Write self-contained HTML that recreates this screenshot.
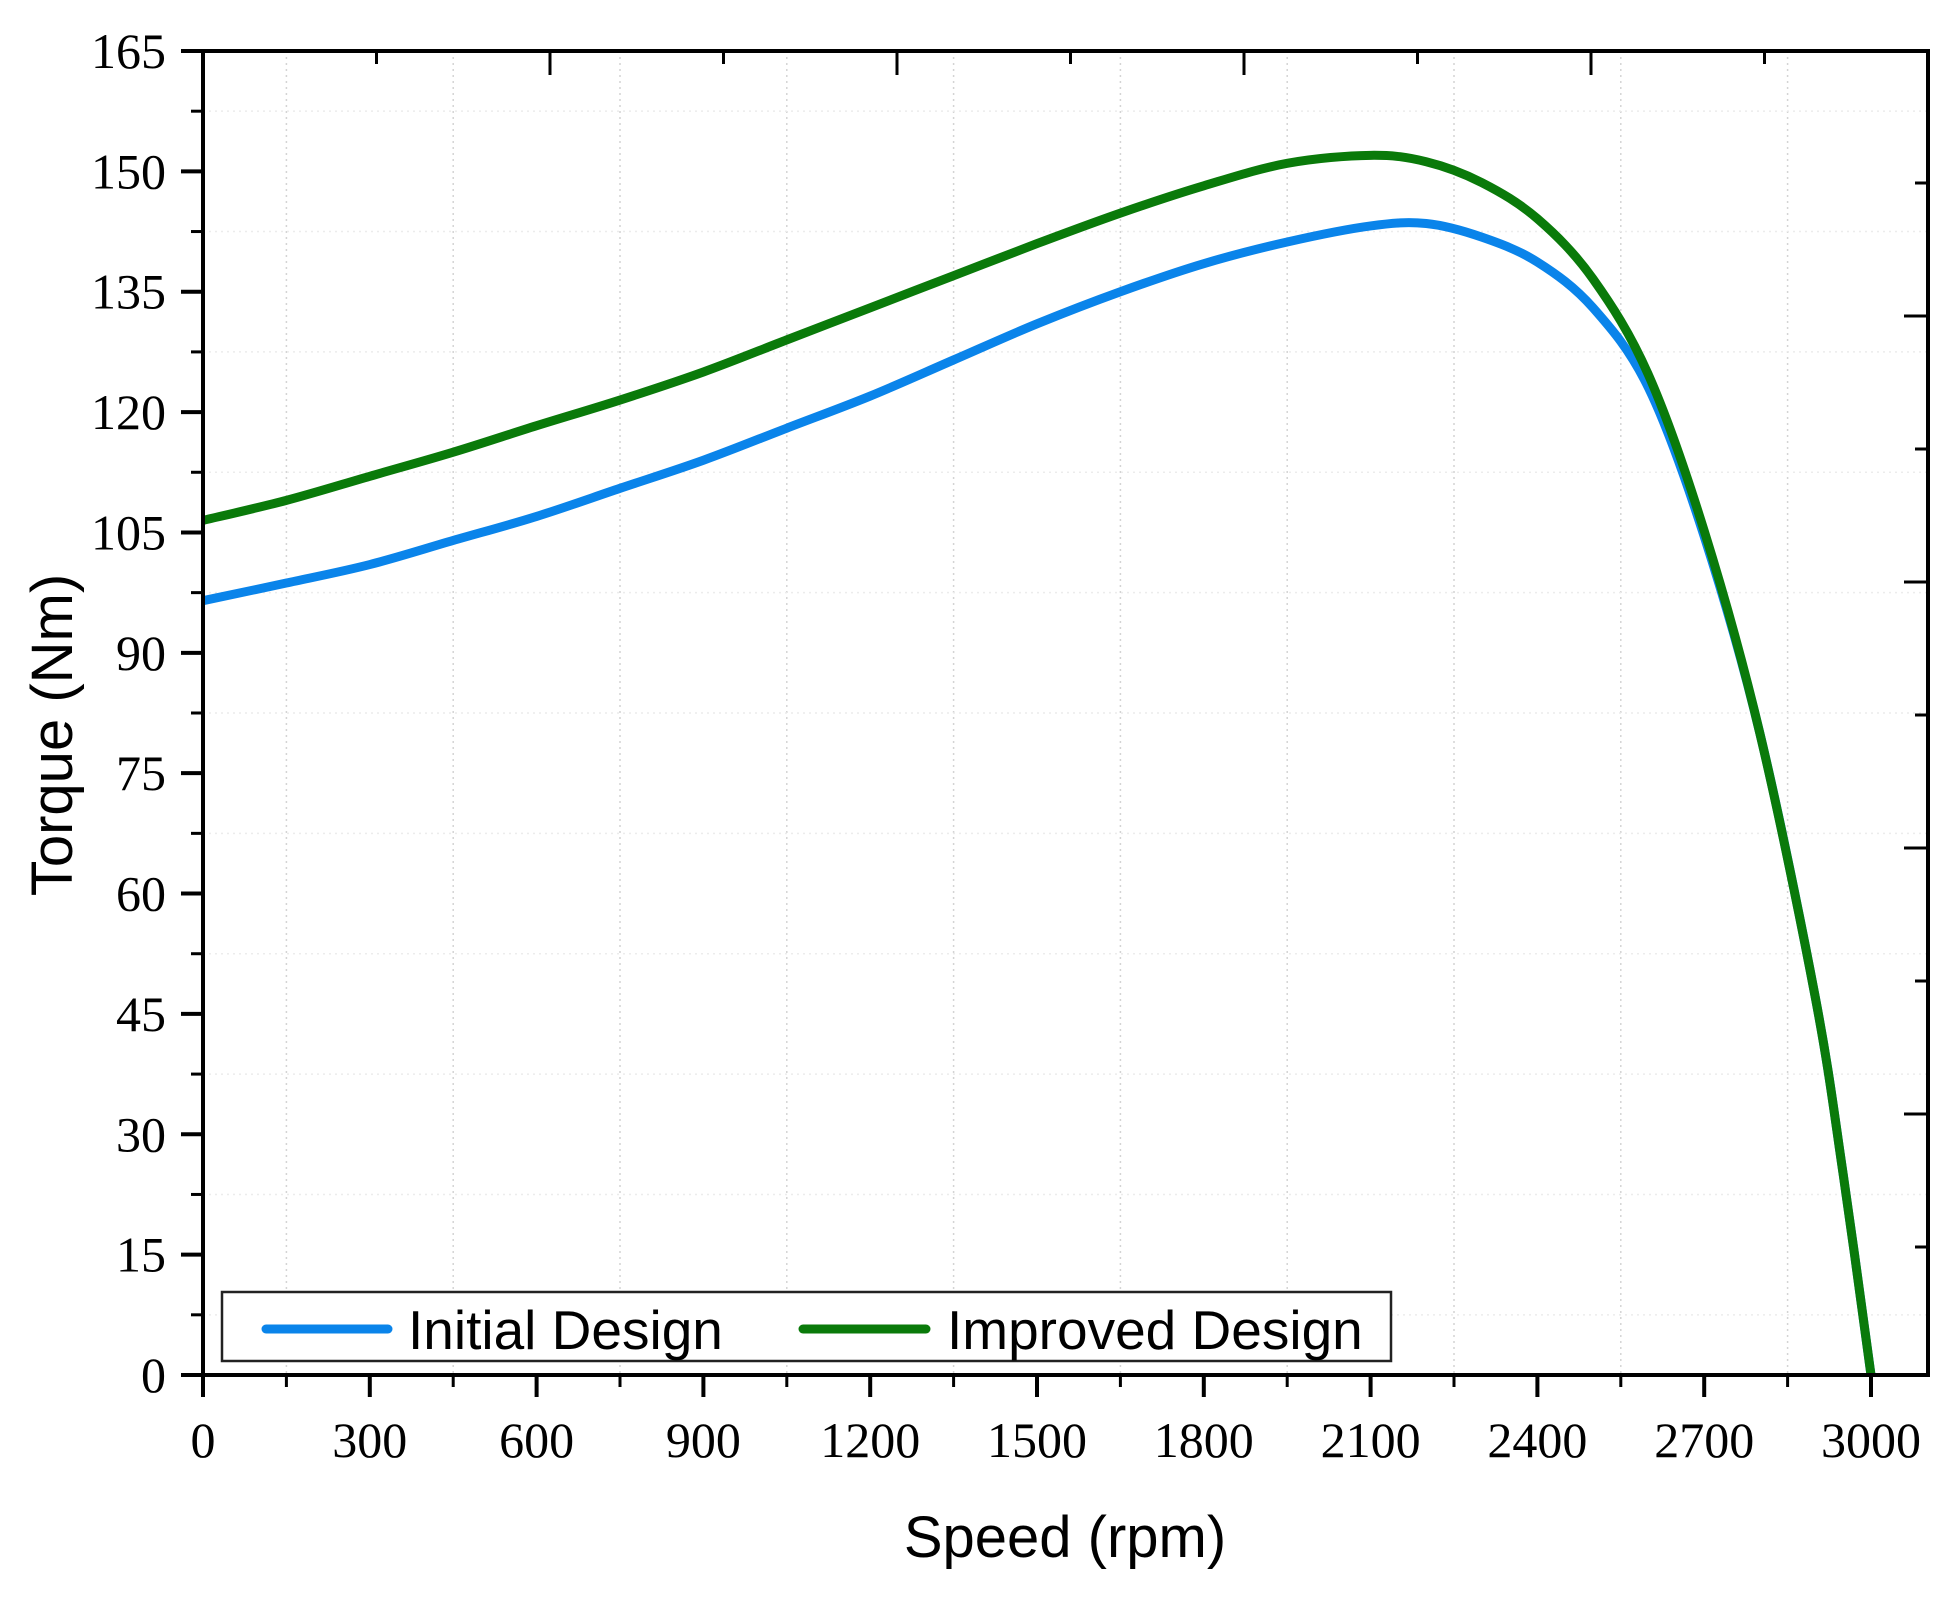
<!DOCTYPE html>
<html><head><meta charset="utf-8"><style>
html,body{margin:0;padding:0;background:#fff;}
svg{display:block;}
</style></head><body>
<svg id="chart" width="1953" height="1599" viewBox="0 0 1953 1599" xmlns="http://www.w3.org/2000/svg">
<rect width="1953" height="1599" fill="#fff"/>
<g id="grid"></g>
<g id="series"></g>
<g id="axes"></g>
<text x="1065" y="1557" text-anchor="middle" font-family="Liberation Sans, sans-serif" font-size="58" fill="#000">Speed (rpm)</text>
<text transform="translate(72,735) rotate(-90)" text-anchor="middle" font-family="Liberation Sans, sans-serif" font-size="58" fill="#000">Torque (Nm)</text>
<g>
<rect x="222" y="1292" width="1169" height="69" fill="#fff" stroke="#222" stroke-width="2.5"/>
<line x1="266" y1="1329" x2="388" y2="1329" stroke="#0a84ea" stroke-width="9" stroke-linecap="round"/>
<text x="408" y="1349" font-family="Liberation Sans, sans-serif" font-size="55" fill="#000">Initial Design</text>
<line x1="803" y1="1329" x2="926" y2="1329" stroke="#0a7a0a" stroke-width="9" stroke-linecap="round"/>
<text x="947" y="1349" font-family="Liberation Sans, sans-serif" font-size="55" fill="#000">Improved Design</text>
</g>
</svg>
<script>
const speeds = [0,150,300,450,600,750,900,1050,1200,1350,1500,1650,1800,1950,2100,2200,2300,2400,2500,2600,2700,2800,2900,2950,3000];
const initialTorque = [96.5,98.7,101,104,107,110.5,114,118,122,126.5,131,135,138.5,141.2,143.2,143.5,141.8,138.7,133,123,104.5,80,47,25,0];
const improvedTorque = [106.5,109,112,115,118.3,121.5,125,129,133,137,141,144.8,148.2,151,152,151.2,148.6,144.1,136.6,124.6,105.2,80,47,25,0];
const xTicks = [0,300,600,900,1200,1500,1800,2100,2400,2700,3000];
const yTicks = [0,15,30,45,60,75,90,105,120,135,150,165];

const NS = 'http://www.w3.org/2000/svg';
const L = 203, R = 1928, T = 51, B = 1375;
const X = v => L + (v / 3000) * (1871 - L);
const Y = v => B - (v / 165) * (B - T);
function mk(tag, attrs, parent) {
  const e = document.createElementNS(NS, tag);
  for (const k in attrs) e.setAttribute(k, attrs[k]);
  parent.appendChild(e);
  return e;
}
const grid = document.getElementById('grid');
const axes = document.getElementById('axes');
const series = document.getElementById('series');

for (let v = 150; v < 3100; v += 300) {
  const g = mk('line', {x1: X(v), x2: X(v), y1: T, y2: B, stroke: '#d4d4d4', 'stroke-width': 1.5, 'stroke-dasharray': '2 4'}, grid);
  
  
}
for (let v = 7.5; v < 165; v += 15) {
  const g = mk('line', {x1: L, x2: R, y1: Y(v), y2: Y(v), stroke: '#ececec', 'stroke-width': 1.5, 'stroke-dasharray': '2 4'}, grid);
  
  
}

function pathFor(xs, ys) {
  const p = xs.map((x, i) => [X(x), Y(ys[i])]);
  let d = 'M' + p[0][0] + ',' + p[0][1];
  for (let i = 0; i < p.length - 1; i++) {
    const p0 = p[i - 1] || p[i], p1 = p[i], p2 = p[i + 1], p3 = p[i + 2] || p2;
    const c1 = [p1[0] + (p2[0] - p0[0]) / 6, p1[1] + (p2[1] - p0[1]) / 6];
    const c2 = [p2[0] - (p3[0] - p1[0]) / 6, p2[1] - (p3[1] - p1[1]) / 6];
    d += ' C' + c1.join(',') + ' ' + c2.join(',') + ' ' + p2.join(',');
  }
  return d;
}
const s1 = mk('path', {d: pathFor(speeds, initialTorque), fill: 'none', stroke: '#0a84ea', 'stroke-width': 9, 'stroke-linejoin': 'round'}, series);


const s2 = mk('path', {d: pathFor(speeds, improvedTorque), fill: 'none', stroke: '#0a7a0a', 'stroke-width': 9, 'stroke-linejoin': 'round'}, series);



const fr = mk('rect', {x: L, y: T, width: R - L, height: B - T, fill: 'none', stroke: '#000', 'stroke-width': 4}, axes);



xTicks.forEach(v => {
  const t = mk('line', {x1: X(v), x2: X(v), y1: B, y2: B + 22, stroke: '#000', 'stroke-width': 4}, axes);
  
  
  const lb = mk('text', {x: X(v), y: 1457, 'text-anchor': 'middle', 'font-family': 'Liberation Serif, serif', 'font-size': 50, fill: '#000'}, axes);
  lb.textContent = v;
  
  
});
for (let v = 150; v < 3000; v += 300) {
  const t = mk('line', {x1: X(v), x2: X(v), y1: B, y2: B + 12, stroke: '#000', 'stroke-width': 3}, axes);
  
  
}
yTicks.forEach(v => {
  const t = mk('line', {x1: L - 22, x2: L, y1: Y(v), y2: Y(v), stroke: '#000', 'stroke-width': 4}, axes);
  
  
  const lb = mk('text', {x: 166, y: Y(v) + 17, 'text-anchor': 'end', 'font-family': 'Liberation Serif, serif', 'font-size': 50, fill: '#000'}, axes);
  lb.textContent = v;
  
  
});
for (let v = 7.5; v < 165; v += 15) {
  const t = mk('line', {x1: L - 12, x2: L, y1: Y(v), y2: Y(v), stroke: '#000', 'stroke-width': 3}, axes);
  
  
}
for (let i = 1; i <= 9; i++) {
  const x = 203 + 173.5 * i;
  const len = i % 2 === 0 ? 24 : 13;
  const t = mk('line', {x1: x, x2: x, y1: T, y2: T + len, stroke: '#000', 'stroke-width': 3}, axes);
  
  
}
for (let i = 0; i < 9; i++) {
  const y = 183 + 133 * i;
  const len = i % 2 === 1 ? 24 : 13;
  const t = mk('line', {x1: R - len, x2: R, y1: y, y2: y, stroke: '#000', 'stroke-width': 3}, axes);
  
  
}
</script>
</body></html>
